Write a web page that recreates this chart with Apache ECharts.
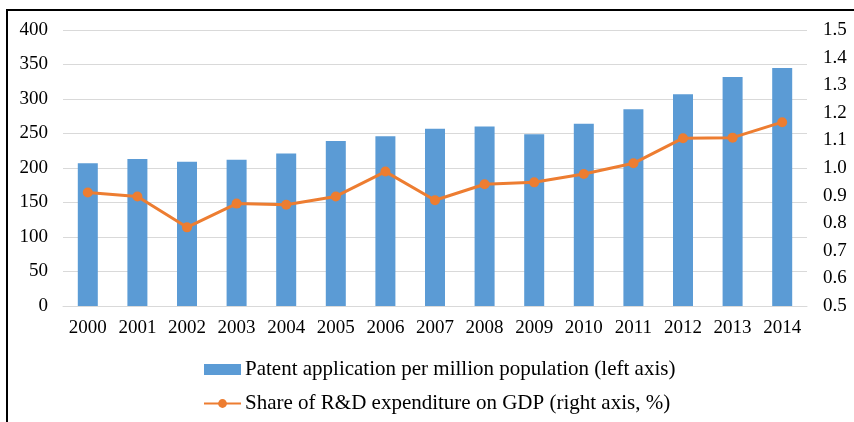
<!DOCTYPE html>
<html>
<head>
<meta charset="utf-8">
<script src="https://cdn.jsdelivr.net/npm/echarts@6/dist/echarts.min.js"></script>
<style>
  html, body { margin: 0; padding: 0; background: #fff; overflow: hidden; }
  #frame { position: absolute; left: 6px; top: 9px; width: 900px; height: 500px; border: 2px solid #000; box-sizing: border-box; }
  #chart { position: absolute; left: 0; top: 0; width: 854px; height: 422px; }
</style>
</head>
<body>
<div id="frame"></div>
<div id="chart"></div>
<script>
const years = ["2000", "2001", "2002", "2003", "2004", "2005", "2006", "2007",
  "2008", "2009", "2010", "2011", "2012", "2013", "2014"];

// patent applications per million population (left axis)
const patents = [207, 213, 209, 212, 221, 239, 246, 257, 260, 249, 264, 285, 307, 332, 345];

// share of R&D expenditure on GDP, % (right axis)
const rdShare = [0.911, 0.897, 0.785, 0.871, 0.867, 0.897, 0.987, 0.883,
  0.941, 0.948, 0.978, 1.017, 1.108, 1.110, 1.166];

const font = "Liberation Serif";
const blue = "#5B9BD5";
const orange = "#ED7D31";

const chart = echarts.init(document.getElementById("chart"));

const option = {
  animation: false,
  textStyle: { fontFamily: font },
  grid: { left: 63, right: 47, top: 30, bottom: 116 },
  legend: {
    orient: "vertical",
    left: 198,
    top: 354,
    itemGap: 13,
    itemWidth: 37,
    itemHeight: 11,
    textStyle: { fontFamily: font, fontSize: 21, color: "#000", padding: [0, 0, 0, -1] },
    data: [
      { name: "Patent application per million population (left axis)", icon: "rect" },
      { name: "Share of R&D expenditure on GDP (right axis, %)" },
    ],
  },
  xAxis: {
    type: "category",
    data: years,
    axisLine: { show: true, lineStyle: { color: "#d9d9d9", width: 1 } },
    axisTick: { show: false },
    axisLabel: { fontFamily: font, fontSize: 19, color: "#000", margin: 13 },
  },
  yAxis: [
    {
      type: "value",
      min: 0,
      max: 400,
      interval: 50,
      axisLine: { show: false },
      axisTick: { show: false },
      splitLine: { lineStyle: { color: "#d9d9d9" } },
      axisLabel: { fontFamily: font, fontSize: 19, color: "#000", margin: 15 },
    },
    {
      type: "value",
      min: 0.5,
      max: 1.5,
      interval: 0.1,
      axisLine: { show: false },
      axisTick: { show: false },
      splitLine: { show: false },
      axisLabel: {
        fontFamily: font,
        fontSize: 19,
        color: "#000",
        margin: 16,
        formatter: (v) => v.toFixed(1),
      },
    },
  ],
  series: [
    {
      name: "Patent application per million population (left axis)",
      type: "bar",
      data: patents,
      barWidth: 20,
      itemStyle: { color: blue },
    },
    {
      name: "Share of R&D expenditure on GDP (right axis, %)",
      type: "line",
      yAxisIndex: 1,
      data: rdShare,
      symbol: "circle",
      symbolSize: 10,
      lineStyle: { color: orange, width: 3 },
      itemStyle: { color: orange },
    },
  ],
};

chart.setOption(option);
</script>
</body>
</html>
